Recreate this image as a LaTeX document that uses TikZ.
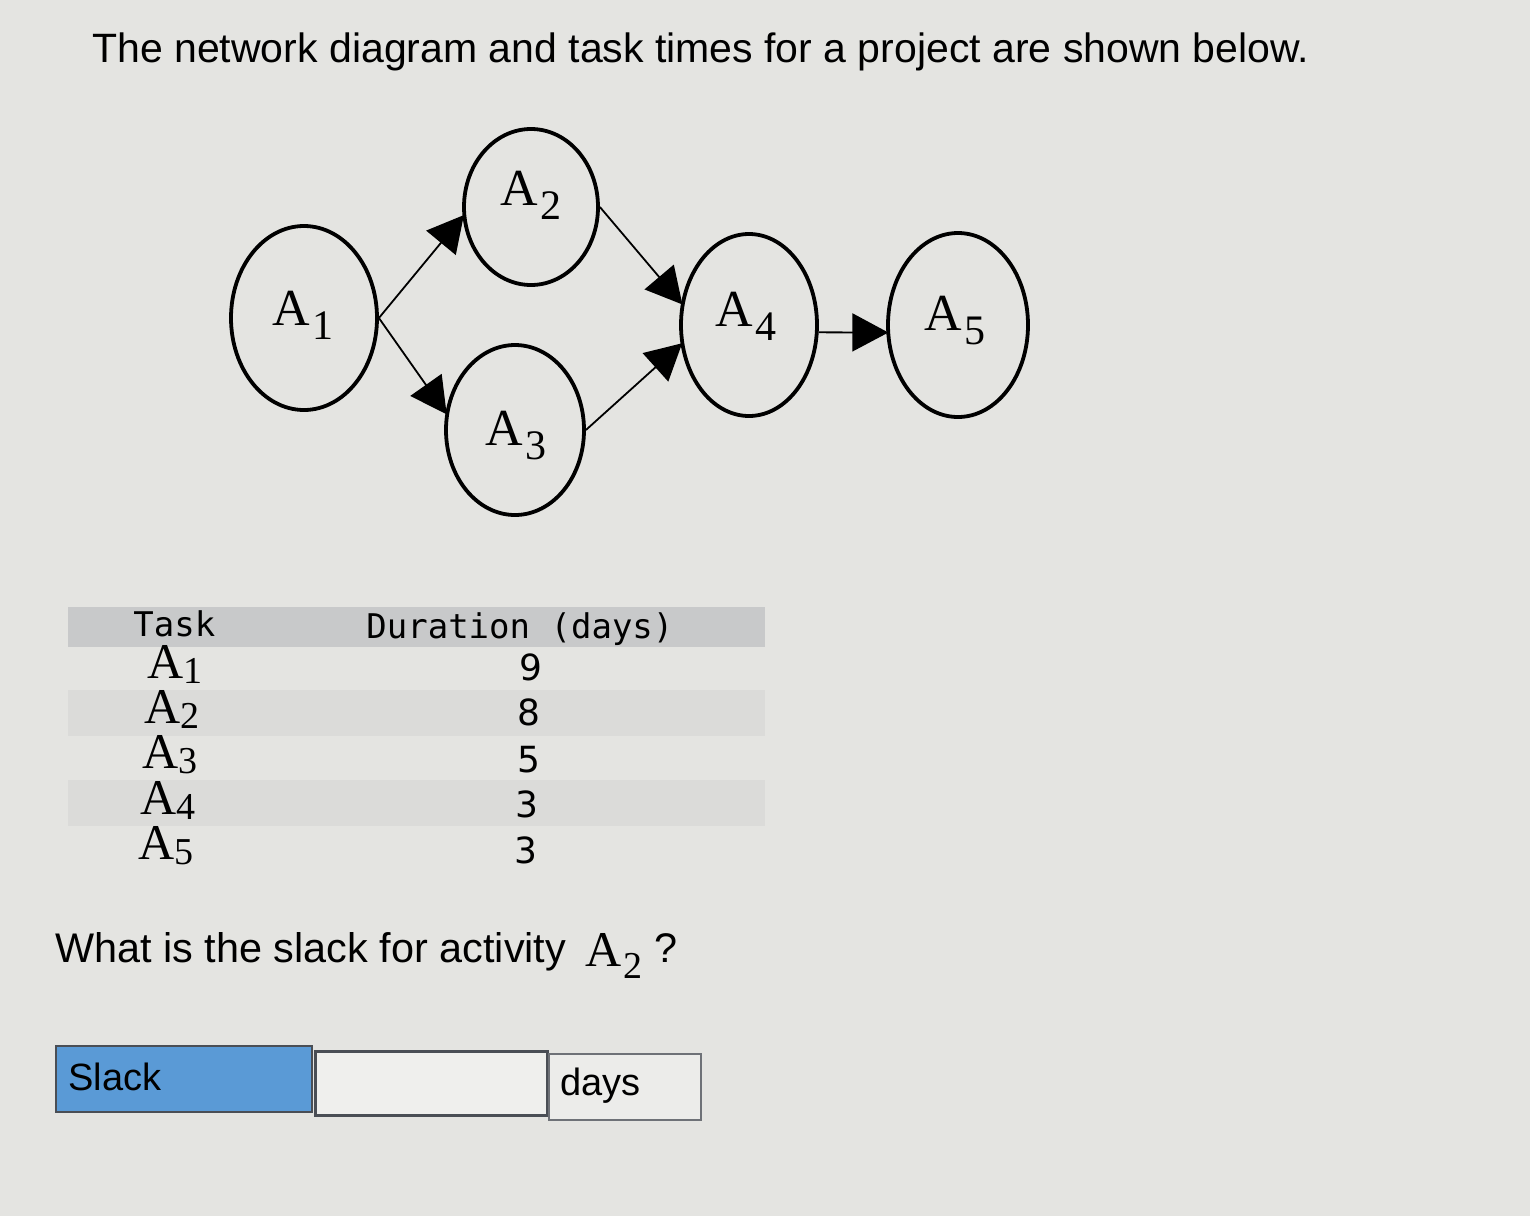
\documentclass[tikz,border=0pt]{standalone}
\usepackage{fontspec}
\setmainfont{Liberation Sans}
\newfontfamily\seriff{Liberation Serif}
\newfontfamily\monof{DejaVu Sans Mono}
\newfontfamily\digf{DejaVu Sans}
\usetikzlibrary{shapes.geometric,arrows.meta}
\definecolor{bg}{HTML}{E4E4E1}
\definecolor{hdr}{HTML}{C8C9CA}
\definecolor{band}{HTML}{DBDBD9}
\definecolor{slackblue}{HTML}{5A9AD6}
\definecolor{boxline}{HTML}{4A4E55}
\newcommand\Asub[1]{{\seriff A\kern0.04em\raisebox{-7pt}{\seriff\fontsize{21pt}{21pt}\selectfont #1}}}
\newcommand\Aq[1]{{\seriff A\kern0.04em\raisebox{-6pt}{\seriff\fontsize{19pt}{19pt}\selectfont #1}}}
\newcommand\Atab[1]{{\seriff A\raisebox{-2.5pt}{\seriff\fontsize{19pt}{19pt}\selectfont #1}}}
\tikzset{
  evt/.style={draw, ellipse, line width=1.9pt, inner sep=0pt},
  conn/.style={line width=0.9pt, -{Triangle[length=18pt,width=19pt]}, shorten >=-1pt},
  elab/.style={font=\fontsize{26pt}{26pt}\selectfont, inner sep=0pt, anchor=base west},
  mono/.style={font=\monof\fontsize{17pt}{20pt}\selectfont, inner sep=0pt},
  dig/.style={font=\digf\fontsize{18pt}{20pt}\selectfont, inner sep=0pt, anchor=base},
  sans/.style={font=\fontsize{20.7pt}{25pt}\selectfont, inner sep=0pt},
}
\begin{document}
\begin{tikzpicture}[x=0.5pt,y=-0.5pt]
\fill[bg] (0,0) rectangle (1530,1216);
\useasboundingbox (0,0) rectangle (1530,1216);

% title
\node[sans, anchor=base west, font=\fontsize{20.5pt}{25pt}\selectfont] (title) at (92,62) {The network diagram and task times for a project are shown below.};

% network
\node[evt, minimum width=73pt, minimum height=92pt] (A1) at (304,318) {};
\node[evt, minimum width=67pt, minimum height=78pt] (A2) at (531,207) {};
\node[evt, minimum width=69pt, minimum height=85pt] (A3) at (515,430) {};
\node[evt, minimum width=68pt, minimum height=91pt] (A4) at (749,325) {};
\node[evt, minimum width=70pt, minimum height=92pt] (A5) at (958,325) {};

\node[elab] (L1) at (272,325) {\Asub{1}};
\node[elab] (L2) at (500,205) {\Asub{2}};
\node[elab] (L3) at (485,445) {\Asub{3}};
\node[elab] (L4) at (715,326) {\Asub{4}};
\node[elab] (L5) at (924,330) {\Asub{5}};

\draw[conn] (A1.east) -- (A2.188);
\draw[conn] (A1.east) -- (A3.166);
\draw[conn] (A2.east) -- (A4.162);
\draw[conn] (A3.east) -- (A4.196);
\draw[conn] (A4.354) -- (A5.186);

% table
\fill[hdr] (68,607) rectangle (765,647);
\fill[band] (68,690) rectangle (765,736);
\fill[band] (68,780) rectangle (765,826);
\node[mono, anchor=base west] (th1) at (133,636) {Task};
\node[mono, anchor=base west] (th2) at (366,638) {Duration (days)};

\node[anchor=north west, inner sep=0pt, align=left,
      font=\fontsize{25pt}{22.6pt}\selectfont] (tasks) at (138,645)
  {\hspace*{4.5pt}\Atab{1}\\ \hspace*{3pt}\Atab{2}\\ \hspace*{2pt}\Atab{3}\\ \hspace*{1pt}\Atab{4}\\ \Atab{5}};

\node[dig] (d1) at (531,680) {9};
\node[dig] (d2) at (529,725) {8};
\node[dig] (d3) at (529,772) {5};
\node[dig] (d4) at (527,817) {3};
\node[dig] (d5) at (526,863) {3};

% question
\node[sans, anchor=base west] (q) at (55,962) {What is the slack for activity};
\node[elab, font=\fontsize{25pt}{25pt}\selectfont] (qa) at (585,966) {\Aq{2}};
\node[sans, anchor=base west] (qm) at (654,962) {?};

% answer box
\node[draw=boxline, line width=1pt, fill=slackblue, minimum width=128pt, minimum height=33pt, anchor=north west, inner sep=0pt] (sl) at (55,1045) {};
\node[sans, anchor=base west, font=\fontsize{19pt}{22pt}\selectfont] (slt) at (68,1090) {Slack};
\node[draw=boxline, line width=1.4pt, fill=white!40!bg, minimum width=116pt, minimum height=32pt, anchor=north west, inner sep=0pt] (inp) at (314,1050) {};
\node[draw=boxline!80, line width=1pt, fill=white!30!bg, minimum width=76pt, minimum height=33pt, anchor=north west, inner sep=0pt] (dy) at (548,1053) {};
\node[sans, anchor=base west, font=\fontsize{19pt}{22pt}\selectfont] (dyt) at (560,1095) {days};
\end{tikzpicture}
\end{document}
